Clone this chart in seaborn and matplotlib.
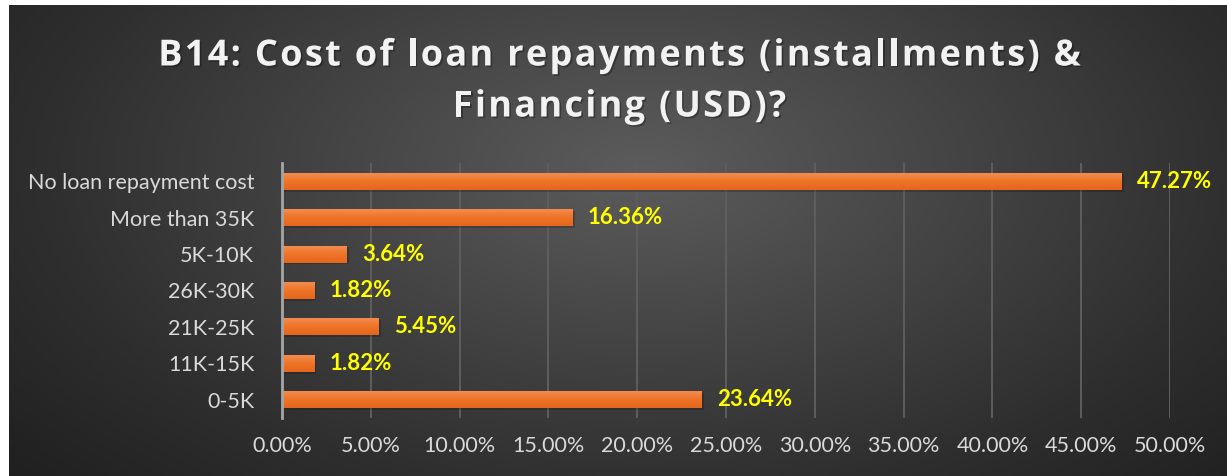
import numpy as np
import pandas as pd
import matplotlib
matplotlib.use("Agg")
import matplotlib.pyplot as plt
import seaborn as sns
from matplotlib.colors import LinearSegmentedColormap
from matplotlib.font_manager import FontProperties
from matplotlib.textpath import TextToPath
import matplotlib.patheffects as pe

# Data
categories = ["No loan repayment cost", "More than 35K", "5K-10K", "26K-30K",
              "21K-25K", "11K-15K", "0-5K"]
shares = [47.27, 16.36, 3.64, 1.82, 5.45, 1.82, 23.64]
x_ticks = [0, 5, 10, 15, 20, 25, 30, 35, 40, 45, 50]
title_lines = ["B14: Cost of loan repayments (installments) &", "Financing (USD)?"]

df = pd.DataFrame({"category": categories, "share": shares})

sns.set_style("dark")
plt.rcParams["font.family"] = ["Lato", "DejaVu Sans"]

W, H = 1227, 476
fig = plt.figure(figsize=(W / 100, H / 100), dpi=100, facecolor="white")

# radial dark background (white strip on left and top like the source)
bg = fig.add_axes([9 / W, 0, 1 - 9 / W, 1 - 5 / H])
yy, xx = np.mgrid[0:1:300j, 0:1:600j]
r = np.sqrt(((xx - 0.52) / 0.75) ** 2 + ((yy - 0.35) / 1.05) ** 2)
bg_cmap = LinearSegmentedColormap.from_list("bg", ["#5c5c5c", "#454545", "#2e2e2e", "#1c1c1c"])
bg.imshow(np.clip(r, 0, 1), cmap=bg_cmap, aspect="auto", origin="upper",
          extent=[0, 1, 0, 1], vmin=0, vmax=1)
bg.set_axis_off()

ax = fig.add_axes([282 / W, 1 - 418 / H, (1170 - 282) / W, (418 - 163) / H])
ax.patch.set_alpha(0)

sns.barplot(data=df, x="share", y="category", order=categories, color="#F07A30",
            width=0.47, ax=ax, saturation=1, zorder=3, linewidth=0)

# soft shadow + vertical gradient on each bar
grad = np.linspace(0, 1, 50).reshape(-1, 1)
bar_cmap = LinearSegmentedColormap.from_list("bar", ["#F58E55", "#EE7428", "#E5661C"])
for p in ax.patches:
    x0, y0 = p.get_x(), p.get_y()
    w, h = p.get_width(), p.get_height()
    ax.add_patch(plt.Rectangle((x0 + 0.12, y0 + 0.05), w, h, color="black",
                               alpha=0.18, zorder=2, lw=0))
    im = ax.imshow(grad, cmap=bar_cmap, aspect="auto", extent=[x0, x0 + w, y0 + h, y0],
                   zorder=4)
    im.set_clip_path(p)

ax.set_xlim(0, 50)
ax.set_ylim(len(categories) - 0.5, -0.5)

for i, v in enumerate(shares):
    ax.text(v + 0.85, i, f"{v:.2f}%", color="#FFFF00", fontsize=16,
            fontweight="bold", va="center", ha="left", zorder=5)

ax.set_xticks(x_ticks)
ax.set_xticklabels([f"{t:.2f}%" for t in x_ticks])
ax.tick_params(axis="x", colors="#d9d9d9", labelsize=15.5, length=0, pad=13)
ax.tick_params(axis="y", colors="#d9d9d9", labelsize=15.5, length=0, pad=20)
ax.grid(axis="x", color="#5e5e5e", linewidth=1.4, zorder=0)
ax.grid(axis="y", visible=False)
for s in ["top", "right", "bottom"]:
    ax.spines[s].set_visible(False)
ax.spines["left"].set_color("#a6a6a6")
ax.spines["left"].set_linewidth(2)
ax.spines["left"].set_zorder(6)
ax.set_xlabel("")
ax.set_ylabel("")

# title with widened letter spacing, drawn char by char
title_prop = FontProperties(family="Open Sans", weight="bold", size=26)
t2p = TextToPath()
tracking = 2.3  # extra px between characters
shadow = [pe.withSimplePatchShadow(offset=(1.2, -1.2), shadow_rgbFace="black", alpha=0.3)]
for line, yc in zip(title_lines, [52, 103]):
    widths = [t2p.get_text_width_height_descent(c, title_prop, ismath=False)[0] * 100 / 72
              for c in line]
    total = sum(widths) + tracking * (len(line) - 1)
    x = W / 2 + 6 - total / 2
    for c, wd in zip(line, widths):
        fig.text(x / W, 1 - yc / H, c, ha="left", va="center_baseline", color="#f2f2f2",
                 fontproperties=title_prop, path_effects=shadow)
        x += wd + tracking

fig.savefig("out.png", dpi=100)
